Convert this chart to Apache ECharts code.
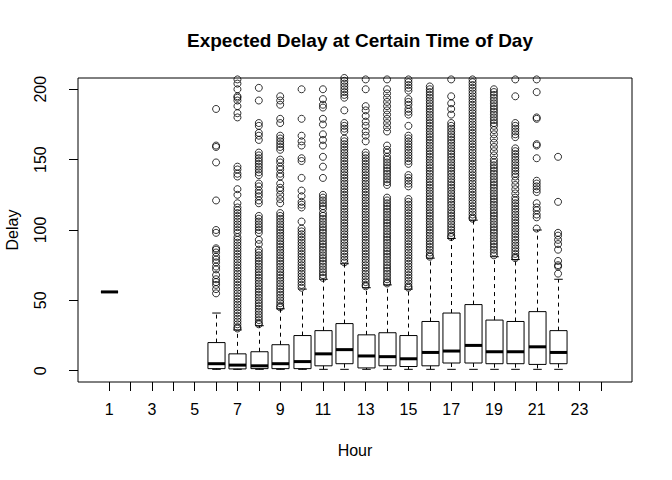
<!DOCTYPE html>
<html>
<head>
<meta charset="utf-8">
<script src="https://cdn.jsdelivr.net/npm/echarts@6/dist/echarts.min.js"></script>
<style>
	html, body { margin: 0; padding: 0; background: #fff; }
	#chart { width: 672px; height: 480px; }
</style>
</head>
<body>
<div id="chart"></div>
<script>
	/*----------  data  ----------*/
	var hours       = [1, 6, 7, 8, 9, 10, 11, 12, 13, 14, 15, 16, 17, 18, 19, 20, 21, 22];
	var whiskerLow  = [56, 1, 1, 1, 1, 1, 1, 1, 1, 1, 1, 1, 1, 1, 1, 1, 1, 1];
	var q1          = [56, 1.5, 1.3, 1.5, 1.5, 1.5, 3.5, 5, 2, 3.5, 3, 3.5, 5.5, 5.5, 5, 5, 4.5, 5];
	var median      = [56, 5, 4, 3.5, 5, 6.5, 12, 15, 10.5, 10, 8.5, 13, 14, 18, 13.5, 13.5, 17, 13];
	var q3          = [56, 20, 12, 13.5, 18.5, 25, 28.5, 33.5, 25.5, 27, 25, 35, 41, 47, 36, 35, 42, 28.5];
	var whiskerHigh = [56, 41, 29, 32, 44, 58, 65, 76, 59, 61, 58, 80, 94, 107, 81, 79, 100, 65];

	var outliers = [
		[],
		[186,160,159,148,121,100,98,87,86,84,81,79,77,74,72,68,65,63,61,58,55],
		[207,204,200,195,194,192,188,183,180,145,143,140,138,129,125,119,116,114,112,110,108,106,104,102,100,98,95,93,91,89,87,85,83,81,79,77,75,73,71,69,67,65,63,61,59,57,55,53,51,49,47,45,43,41,39,37,35,33,31,30],
		[201,192,176,174,169,167,164,155,153,151,149,147,145,143,141,139,133,131,128,126,124,121,119,110,108,106,104,102,100,98,93,90,86,84,82,80,78,76,74,72,70,68,66,64,62,60,58,56,54,52,50,48,46,44,42,40,38,36,34,33],
		[195,192,189,179,176,167,165,163,161,159,157,150,148,145,143,140,138,133,130,128,125,122,119,112,110,108,106,104,102,100,98,96,94,92,90,88,86,84,82,80,78,76,74,72,70,68,66,64,62,60,58,56,54,52,50,48,46,45],
		[200,179,167,163,160,151,149,137,128,124,120,118,116,106,101,99,97,95,93,91,89,87,85,83,81,79,77,75,73,71,69,67,65,63,61,59],
		[200,193,189,187,179,175,168,164,160,152,145,137,125,123,121,119,117,115,112,110,108,106,104,102,100,98,96,94,92,90,88,86,84,82,80,78,76,74,72,70,68,66],
		[208,206,204,202,200,198,196,194,185,176,174,172,170,165,163,161,159,157,155,153,151,149,147,145,143,141,139,137,135,133,131,129,127,125,123,121,119,117,115,113,111,109,107,105,103,101,99,97,95,93,91,89,87,85,83,81,79,77],
		[207,200,188,185,181,177,174,170,167,163,155,153,151,149,147,145,143,141,139,137,135,133,131,129,127,125,123,121,119,117,115,113,111,109,107,105,103,101,99,97,95,93,91,89,87,85,83,81,79,77,75,73,71,69,67,65,63,61,60],
		[207,200,197,194,191,188,185,182,179,176,173,170,160,157,155,152,150,148,146,144,142,140,138,136,134,132,123,121,119,117,115,113,111,109,107,105,103,101,99,97,95,93,91,89,87,85,83,81,79,77,75,73,71,69,67,65,63,62],
		[207,205,203,201,199,193,191,189,186,184,182,174,167,165,163,161,159,157,155,153,151,149,147,139,137,135,133,131,122,120,118,116,114,112,110,108,106,104,102,100,98,96,94,92,90,88,86,84,82,80,78,76,74,72,70,68,66,64,62,60,59],
		[202,200,198,196,194,192,190,188,186,184,182,180,178,176,174,172,170,168,166,164,162,160,158,156,154,152,150,148,146,144,142,140,138,136,134,132,130,128,126,124,122,120,118,116,114,112,110,108,106,104,102,100,98,96,94,92,90,88,86,84,82,81],
		[207,195,190,186,182,176,174,172,170,168,166,164,162,160,158,156,154,152,150,148,146,144,142,140,138,136,134,132,130,128,126,124,122,120,118,116,114,112,110,108,106,104,102,100,98,96,95],
		[207,205,203,201,199,197,195,193,191,189,187,185,183,181,179,177,175,173,171,169,167,165,163,161,159,157,155,153,151,149,147,145,143,141,139,137,135,133,131,129,127,125,123,121,119,117,115,113,111,109,108],
		[200,198,196,194,192,190,188,186,184,182,180,178,176,174,171,168,165,162,159,156,153,150,148,146,144,142,140,138,136,134,132,130,128,126,124,122,120,118,116,114,112,110,108,106,104,102,100,98,96,94,92,90,88,86,84,82],
		[207,195,176,174,172,170,168,166,158,156,154,152,150,148,146,144,142,140,138,135,132,129,126,123,121,119,117,115,113,111,109,107,105,103,101,99,97,95,93,91,89,87,85,83,81,80],
		[207,198,180,179,161,160,151,135,133,131,129,127,119,116,114,111,109,101],
		[152,120,98,96,93,90,86,78,75,74,69]
	];

	var hourTicks  = [1,2,3,4,5,6,7,8,9,10,11,12,13,14,15,16,17,18,19,20,21,22,23,24];
	var hourLabels = [1,3,5,7,9,11,13,15,17,19,21,23];
	var delayTicks = [0, 50, 100, 150, 200];

	/*----------  build series data  ----------*/
	var boxData = [];
	var pointData = [];
	for (var i = 0; i < hours.length; i++) {
		boxData.push([hours[i], whiskerLow[i], q1[i], median[i], q3[i], whiskerHigh[i]]);
		for (var j = 0; j < outliers[i].length; j++) {
			pointData.push([hours[i], outliers[i][j]]);
		}
	}

	var FONT = "'Liberation Sans', Arial, sans-serif";

	function renderBox(params, api) {
		var x = api.value(0);
		var lo = api.coord([x, api.value(1)]);
		var b1 = api.coord([x, api.value(2)]);
		var md = api.coord([x, api.value(3)]);
		var b3 = api.coord([x, api.value(4)]);
		var hi = api.coord([x, api.value(5)]);
		var w = api.size([0.8, 0])[0];
		var cx = Math.round(lo[0]) + 0.5;
		var half = w / 2, st = w / 4;
		var solid = { stroke: '#000', lineWidth: 1, fill: null };
		var dashed = { stroke: '#000', lineWidth: 1, lineDash: [4, 4], fill: null };

		return {
			type: 'group',
			children: [
				{ type: 'line', shape: { x1: cx, y1: b3[1], x2: cx, y2: hi[1] }, style: dashed },
				{ type: 'line', shape: { x1: cx, y1: b1[1], x2: cx, y2: lo[1] }, style: dashed },
				{ type: 'line', shape: { x1: cx - st, y1: hi[1], x2: cx + st, y2: hi[1] }, style: solid },
				{ type: 'line', shape: { x1: cx - st, y1: lo[1], x2: cx + st, y2: lo[1] }, style: solid },
				{ type: 'rect', shape: { x: cx - half, y: b3[1], width: w, height: b1[1] - b3[1] }, style: solid },
				{ type: 'line', shape: { x1: cx - half, y1: md[1], x2: cx + half, y2: md[1] },
				  style: { stroke: '#000', lineWidth: 3 } }
			]
		};
	}

	var chart = echarts.init(document.getElementById('chart'), null, { renderer: 'svg' });

	chart.setOption({
		animation: false,
		backgroundColor: '#fff',
		title: {
			text: 'Expected Delay at Certain Time of Day',
			left: 355,
			top: 26,
			textAlign: 'center',
			textStyle: { fontFamily: FONT, fontSize: 19, fontWeight: 'bold', color: '#000' }
		},
		grid: {
			left: 78, top: 78, right: 40, bottom: 98,
			outerBoundsMode: 'none',
			containLabel: false,
			show: true, borderColor: '#000', borderWidth: 1, backgroundColor: 'transparent'
		},
		xAxis: {
			type: 'value',
			min: -0.46,
			max: 25.46,
			name: 'Hour',
			nameLocation: 'middle',
			nameGap: 60,
			nameTextStyle: { fontFamily: FONT, fontSize: 16, color: '#000' },
			axisLine: { show: false, onZero: false },
			splitLine: { show: false },
			axisTick: { show: true, inside: false, length: 9, customValues: hourTicks,
				lineStyle: { color: '#000', width: 1 } },
			axisLabel: { customValues: hourLabels, margin: 19,
				fontFamily: FONT, fontSize: 16, color: '#000' }
		},
		yAxis: {
			type: 'value',
			min: -8,
			max: 208,
			name: 'Delay',
			nameLocation: 'middle',
			nameGap: 58,
			nameTextStyle: { fontFamily: FONT, fontSize: 16, color: '#000' },
			axisLine: { show: false, onZero: false },
			splitLine: { show: false },
			axisTick: { show: true, inside: false, length: 9, customValues: delayTicks,
				lineStyle: { color: '#000', width: 1 } },
			axisLabel: { customValues: delayTicks, rotate: 90, margin: 30,
				fontFamily: FONT, fontSize: 16, color: '#000' }
		},
		series: [
			{
				type: 'custom',
				name: 'box',
				renderItem: renderBox,
				data: boxData,
				encode: { x: 0, y: [1, 2, 3, 4, 5] },
				silent: true,
				z: 2
			},
			{
				type: 'scatter',
				name: 'outliers',
				data: pointData,
				symbol: 'circle',
				symbolSize: 7,
				clip: true,
				silent: true,
				itemStyle: { color: 'rgba(0,0,0,0)', borderColor: '#000', borderWidth: 1 },
				z: 3
			}
		]
	});
</script>
</body>
</html>
